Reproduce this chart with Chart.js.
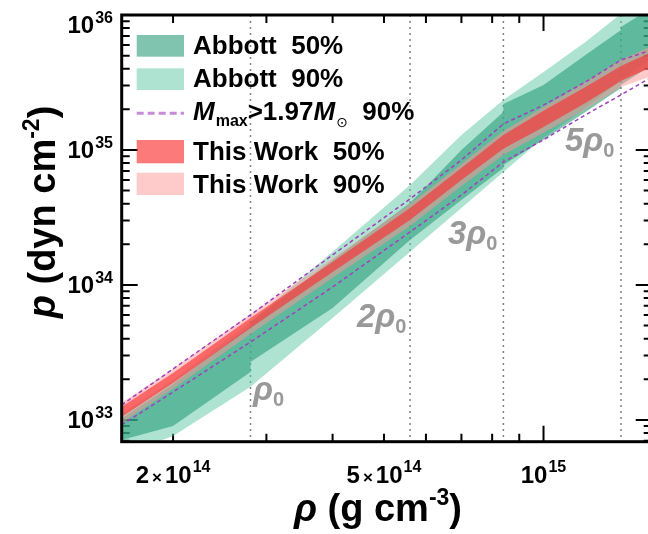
<!DOCTYPE html>
<html>
<head>
<meta charset="utf-8">
<script src="https://cdn.jsdelivr.net/npm/chart.js@4.4.1/dist/chart.umd.min.js"></script>
<style>
  html, body { margin: 0; padding: 0; background: #fff; overflow: hidden; }
  #wrap { width: 648px; height: 534px; overflow: hidden; position: relative; }
  canvas { display: block; }
</style>
</head>
<body>
<div id="wrap"><canvas id="eos" width="656" height="534"></canvas></div>
<script>
// density grid (g cm^-3) for this work and the Mmax > 1.97 Msun bounds
const rhoTW = [1.6e14, 2.0e14, 2.8e14, 4.0e14, 5.6e14, 7.0e14, 8.4e14, 1.0e15, 1.2e15, 1.4e15, 1.6e15];
const tw50Upper = [1.25e33, 2.23e33, 5.7e33, 1.48e34, 3.72e34, 7.36e34, 1.29e35, 1.95e35, 2.93e35, 4.19e35, 5.32e35];
const tw50Lower = [1.05e33, 1.88e33, 4.8e33, 1.25e34, 3.03e34, 6.0e34, 1.02e35, 1.48e35, 2.23e35, 3.24e35, 4.12e35];
const tw90Upper = [1.34e33, 2.39e33, 6.1e33, 1.58e34, 3.98e34, 7.88e34, 1.38e35, 2.08e35, 3.19e35, 4.64e35, 5.89e35];
const tw90Lower = [9.5e32, 1.7e33, 4.34e33, 1.13e34, 2.74e34, 5.41e34, 9.2e34, 1.34e35, 2.01e35, 2.93e35, 3.53e35];
const mmaxUpper = [1.29e33, 2.39e33, 6.0e33, 1.67e34, 4.34e34, 8.43e34, 1.56e35, 2.15e35, 3.19e35, 4.64e35, 5.5e35];
const mmaxLower = [9.2e32, 1.61e33, 3.78e33, 9.66e33, 2.47e34, 4.64e34, 8.15e34, 1.19e35, 1.82e35, 2.56e35, 3.47e35];

// Abbott bands (repeated densities are the steps at rho0, 3rho0, 5rho0)
const rhoAbbott = [1.6e14, 2.0e14, 2.8e14, 2.8e14, 4.0e14, 5.6e14, 7.0e14, 8.4e14, 8.4e14, 1.0e15, 1.2e15, 1.4e15, 1.4e15, 1.6e15];
const a90Upper = [1.11e33, 1.98e33, 5.32e33, 5.32e33, 1.76e34, 5.5e34, 1.29e35, 2.35e35, 2.35e35, 3.78e35, 6.31e35, 1.02e36, 1.02e36, 1.48e36];
const a90Lower = [5.5e32, 7.6e32, 1.76e33, 1.76e33, 5.7e33, 1.76e34, 3.72e34, 6.87e34, 6.87e34, 1.23e35, 2.05e35, 3.3e35, 3.3e35, 4.8e35];
const a50Upper = [1.03e33, 1.85e33, 4.97e33, 5.32e33, 1.53e34, 4.05e34, 1.0e35, 1.91e35, 2.19e35, 3.03e35, 5.06e35, 7.74e35, 8.15e35, 1.13e36];
const a50Lower = [7.1e32, 9.0e32, 2.27e33, 2.69e33, 6.75e33, 2.15e34, 4.26e34, 7.36e34, 7.74e34, 1.19e35, 1.91e35, 2.88e35, 3.03e35, 4.26e35];

// saturation density marks
const rhoMarks = [2.8e14, 5.6e14, 8.4e14, 1.4e15];
const rhoMarkLabels = ["", "2", "3", "5"];
const rhoMarkPos = [[253, 400], [357, 327], [448, 244], [565, 151]];

// tick labels
const xTickValues = [2e14, 5e14, 1e15];
const xTickMant = ["2", "5", ""];
const xTickExp = ["14", "14", "15"];
const yTickValues = [1e33, 1e34, 1e35, 1e36];
const yTickExp = ["33", "34", "35", "36"];

const FONT = "'Liberation Sans', Arial, sans-serif";
const C_A90 = "rgba(93,199,165,0.5)";
const C_A50 = "rgba(43,156,121,0.6)";
const C_TW90 = "rgba(255,150,150,0.5)";
const C_TW50 = "rgba(250,50,50,0.65)";
const C_MMAX = "#a23fc0";
const NONE = "rgba(0,0,0,0)";

const pts = (xs, ys) => xs.map((x, i) => ({ x: x, y: ys[i] }));

function runsWidth(c, runs) {
    let w = 0;
    runs.forEach(r => { c.font = r[1]; w += c.measureText(r[0]).width + (r[3] || 0); });
    return w;
}

function drawRuns(c, runs, x, y) {
    runs.forEach(r => {
        c.font = r[1];
        c.fillText(r[0], x, y + (r[2] || 0));
        x += c.measureText(r[0]).width + (r[3] || 0);
    });
    return x;
}

function isDecade(v) {
    const l = Math.log10(v);
    return Math.abs(l - Math.round(l)) < 1e-6;
}

function tickList(lo, hi) {
    const out = [];
    for (let e = Math.floor(Math.log10(lo)); e <= Math.ceil(Math.log10(hi)); e++) {
        for (let m = 1; m <= 9; m++) {
            const v = m * Math.pow(10, e);
            if (v >= lo * 0.999 && v <= hi * 1.001) out.push(v);
        }
    }
    return out;
}

const framePlugin = {
    id: "frame",
    beforeDatasetsDraw(chart) {
        const c = chart.ctx;
        const a = chart.chartArea;
        const xs = chart.scales.x, ys = chart.scales.y;
        c.save();
        // density marks
        c.strokeStyle = "#808080";
        c.lineWidth = 1.5;
        c.setLineDash([2, 4]);
        rhoMarks.forEach(v => {
            const px = xs.getPixelForValue(v);
            c.beginPath();
            c.moveTo(px, a.top);
            c.lineTo(px, a.bottom);
            c.stroke();
        });
        c.setLineDash([]);
        // inward ticks on all four sides
        c.strokeStyle = "#000";
        c.lineWidth = 2;
        tickList(xs.min, xs.max).forEach(v => {
            const px = xs.getPixelForValue(v);
            const len = isDecade(v) ? 16 : 8;
            c.beginPath();
            c.moveTo(px, a.bottom); c.lineTo(px, a.bottom - len);
            c.moveTo(px, a.top); c.lineTo(px, a.top + len);
            c.stroke();
        });
        tickList(ys.min, ys.max).forEach(v => {
            const py = ys.getPixelForValue(v);
            const len = isDecade(v) ? 16 : 8;
            c.beginPath();
            c.moveTo(a.left, py); c.lineTo(a.left + len, py);
            c.moveTo(a.right, py); c.lineTo(a.right - len, py);
            c.stroke();
        });
        c.restore();
    },
    afterDraw(chart) {
        const c = chart.ctx;
        const a = chart.chartArea;
        const xs = chart.scales.x, ys = chart.scales.y;
        c.save();
        c.strokeStyle = "#000";
        c.lineWidth = 3;
        c.strokeRect(a.left, a.top, a.right - a.left, a.bottom - a.top);

        c.fillStyle = "#000";
        c.textBaseline = "alphabetic";
        c.textAlign = "left";
        const big = "bold 24px " + FONT, sup = "bold 16px " + FONT;

        // y tick labels
        yTickValues.forEach((v, i) => {
            let py = ys.getPixelForValue(v) + 8.5;
            if (i === yTickValues.length - 1) py += 9;
            const runs = [["10", big, 0, 1], [yTickExp[i], sup, -10]];
            drawRuns(c, runs, 113 - runsWidth(c, runs), py);
        });
        // x tick labels
        xTickValues.forEach((v, i) => {
            const px = xs.getPixelForValue(v);
            const runs = [];
            if (xTickMant[i]) {
                runs.push([xTickMant[i], big, 0, 3]);
                runs.push(["\u00d7", "bold 17px " + FONT, 0, 3]);
            }
            runs.push(["10", big, 0, 1]);
            runs.push([xTickExp[i], sup, -11]);
            drawRuns(c, runs, px - runsWidth(c, runs) / 2, 483);
        });

        // axis titles
        const tb = "bold 38px " + FONT, ti = "italic bold 38px " + FONT, ts = "bold 23px " + FONT;
        const xt = [["\u03c1", ti], [" (g cm", tb], ["-3", ts, -16], [")", tb]];
        drawRuns(c, xt, 378 - runsWidth(c, xt) / 2, 521);
        const yt = [["p", ti], [" (dyn cm", tb], ["-2", ts, -16], [")", tb]];
        c.save();
        c.translate(55, 212);
        c.rotate(-Math.PI / 2);
        drawRuns(c, yt, -runsWidth(c, yt) / 2, 0);
        c.restore();

        // rho0 labels
        c.fillStyle = "#999999";
        rhoMarks.forEach((v, i) => {
            const runs = [];
            if (rhoMarkLabels[i]) runs.push([rhoMarkLabels[i], "italic bold 33px " + FONT]);
            runs.push(["\u03c1", "italic bold 33px " + FONT]);
            runs.push(["0", "bold 20px " + FONT, 6]);
            drawRuns(c, runs, rhoMarkPos[i][0], rhoMarkPos[i][1]);
        });

        // legend
        const lf = "bold 26px " + FONT;
        const sx = 136.7, sw = 47.3, tx = 193;
        c.fillStyle = C_A50; c.fillRect(sx, 35, sw, 21.7);
        c.fillStyle = C_A90; c.fillRect(sx, 68.3, sw, 21.7);
        c.fillStyle = C_TW50; c.fillRect(sx, 140, sw, 23.3);
        c.fillStyle = C_TW90; c.fillRect(sx, 172.7, sw, 22.3);
        c.strokeStyle = "#c78bd8";
        c.lineWidth = 3;
        c.setLineDash([7, 4]);
        c.beginPath(); c.moveTo(sx, 113.3); c.lineTo(sx + sw, 113.3); c.stroke();
        c.setLineDash([]);
        c.fillStyle = "#000";
        drawRuns(c, [["Abbott  50%", lf]], tx, 53.5);
        drawRuns(c, [["Abbott  90%", lf]], tx, 87);
        drawRuns(c, [
            ["M", "italic bold 26px " + FONT, 0, 1],
            ["max", "bold 16px " + FONT, 6],
            [">1.97", lf],
            ["M", "italic bold 26px " + FONT, 0, 1],
            ["\u2299", "14px 'DejaVu Sans'", 7],
            ["  90%", lf]
        ], tx, 120);
        drawRuns(c, [["This Work  50%", lf]], tx, 160);
        drawRuns(c, [["This Work  90%", lf]], tx, 193);
        c.restore();
    }
};

const line = (label, xs, ys, extra) => Object.assign({
    label: label,
    data: pts(xs, ys),
    borderColor: NONE,
    borderWidth: 0,
    backgroundColor: NONE,
    fill: false,
    tension: 0
}, extra || {});

const chart = new Chart(document.getElementById("eos").getContext("2d"), {
    type: "line",
    data: {
        datasets: [
            line("Mmax upper", rhoTW, mmaxUpper, { borderColor: C_MMAX, borderWidth: 1.5, borderDash: [4, 3] }),
            line("Mmax lower", rhoTW, mmaxLower, { borderColor: C_MMAX, borderWidth: 1.5, borderDash: [4, 3] }),
            line("TW50 lower", rhoTW, tw50Lower),
            line("This Work 50%", rhoTW, tw50Upper, { backgroundColor: C_TW50, fill: 2 }),
            line("TW90 lower", rhoTW, tw90Lower),
            line("This Work 90%", rhoTW, tw90Upper, { backgroundColor: C_TW90, fill: 4 }),
            line("A50 lower", rhoAbbott, a50Lower),
            line("Abbott 50%", rhoAbbott, a50Upper, { backgroundColor: C_A50, fill: 6 }),
            line("A90 lower", rhoAbbott, a90Lower),
            line("Abbott 90%", rhoAbbott, a90Upper, { backgroundColor: C_A90, fill: 8 })
        ]
    },
    options: {
        responsive: false,
        devicePixelRatio: 1,
        animation: false,
        layout: { padding: { top: 15, right: 656 - 651.7, left: 0, bottom: 0 } },
        elements: { point: { radius: 0, hoverRadius: 0 } },
        plugins: {
            legend: { display: false },
            tooltip: { enabled: false }
        },
        scales: {
            x: {
                type: "logarithmic",
                min: 1.6e14,
                max: 1.6e15,
                ticks: { display: false },
                grid: { display: false },
                border: { display: false },
                afterFit: s => { s.height = 534 - 441.7; }
            },
            y: {
                type: "logarithmic",
                min: 6.9e32,
                max: 1e36,
                ticks: { display: false },
                grid: { display: false },
                border: { display: false },
                afterFit: s => { s.width = 121.7; }
            }
        }
    },
    plugins: [framePlugin]
});
</script>
</body>
</html>
